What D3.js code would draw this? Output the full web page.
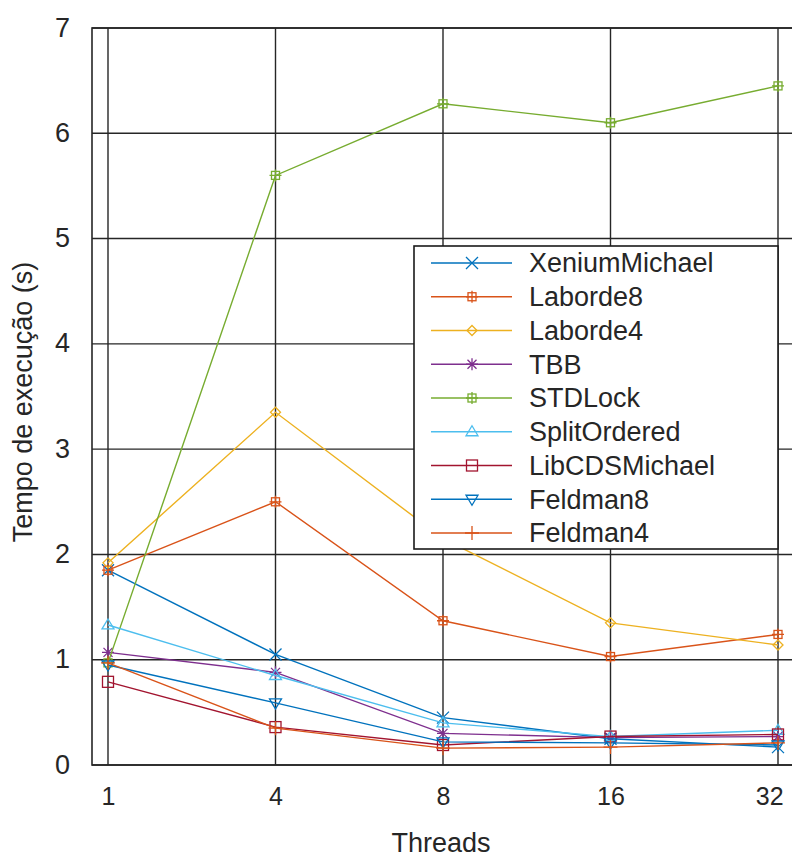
<!DOCTYPE html>
<html><head><meta charset="utf-8">
<script src="https://cdn.jsdelivr.net/npm/d3@7"></script>
<style>body{margin:0;background:#fff}svg{display:block}text{font-family:"Liberation Sans",Arial,sans-serif;fill:#262626}</style>
</head><body><svg id="c" width="792" height="859"></svg>
<script>
const categories = ["1","4","8","16","32"];
const yTicks = [0,1,2,3,4,5,6,7];
const seriesNames = ["XeniumMichael","Laborde8","Laborde4","TBB","STDLock","SplitOrdered","LibCDSMichael","Feldman8","Feldman4"];
const seriesColors = ["#0072bd","#d95319","#edb120","#7e2f8e","#77ac30","#4dbeee","#a2142f","#0072bd","#d95319"];
const seriesMarkers = ["x","sqplus","diamond","star","sqplus","tri","square","trid","plus"];
const xeniumMichael = [1.85,1.05,0.45,0.25,0.17];
const laborde8 = [1.85,2.50,1.37,1.03,1.24];
const laborde4 = [1.92,3.35,2.15,1.35,1.14];
const tbb = [1.07,0.88,0.30,0.26,0.27];
const stdLock = [0.97,5.60,6.28,6.10,6.45];
const splitOrdered = [1.33,0.85,0.40,0.27,0.33];
const libCDSMichael = [0.79,0.36,0.19,0.27,0.29];
const feldman8 = [0.95,0.59,0.22,0.21,0.19];
const feldman4 = [0.97,0.35,0.16,0.17,0.21];
const seriesValues = [xeniumMichael,laborde8,laborde4,tbb,stdLock,splitOrdered,libCDSMichael,feldman8,feldman4];

const svg = d3.select("#c");
const L=92,T=28,R=794,B=765;
const x = d3.scalePoint().domain(categories).range([108,778]);
const y = d3.scaleLinear().domain([0,7]).range([B,T]);
const grid="#262626";
const fs="27px";

svg.append("g").selectAll("line").data(yTicks).join("line")
  .attr("x1",L).attr("x2",R).attr("y1",d=>y(d)).attr("y2",d=>y(d))
  .attr("stroke",grid).attr("stroke-width",1.4);
svg.append("g").selectAll("line").data(categories).join("line")
  .attr("x1",d=>x(d)).attr("x2",d=>x(d)).attr("y1",T).attr("y2",B)
  .attr("stroke",grid).attr("stroke-width",1.4);
svg.append("rect").attr("x",L).attr("y",T).attr("width",R-L).attr("height",B-T)
  .attr("fill","none").attr("stroke",grid).attr("stroke-width",1.6);

const yAxis = d3.axisLeft(y).tickValues(yTicks).tickFormat(d3.format("d")).tickSize(0).tickPadding(22);
const ga = svg.append("g").attr("transform",`translate(${L},0)`).call(yAxis);
ga.select(".domain").remove();
ga.selectAll("text").style("font-size",fs).attr("fill","#262626").attr("font-family","Liberation Sans").attr("dy","0.3em");
const xAxis = d3.axisBottom(x).tickSize(0).tickPadding(22);
const gx = svg.append("g").attr("transform",`translate(0,${B})`).call(xAxis);
gx.select(".domain").remove();
gx.selectAll("text").style("font-size","25px").attr("fill","#262626").attr("font-family","Liberation Sans")
  .attr("dx",d=>d==="32"?"-0.35em":"0");

svg.append("text").attr("x",441).attr("y",852).attr("text-anchor","middle").style("font-size",fs).text("Threads");
svg.append("text").attr("transform","translate(32,402) rotate(-90)").attr("text-anchor","middle").style("font-size",fs).text("Tempo de execução (s)");

function marker(g, type, cx, cy, color){
  const s=g.append("g").attr("transform",`translate(${cx},${cy})`).attr("fill","none").attr("stroke",color).attr("stroke-width",1.3);
  if(type==="x"){ s.append("path").attr("d","M-6,-6L6,6M-6,6L6,-6"); }
  else if(type==="plus"){ s.append("path").attr("d","M0,-7L0,7M-7,0L7,0"); }
  else if(type==="sqplus"){ s.append("rect").attr("x",-4).attr("y",-4).attr("width",8).attr("height",8); s.append("path").attr("d","M0,-6L0,6M-6,0L6,0"); }
  else if(type==="square"){ s.append("rect").attr("x",-5.5).attr("y",-5.5).attr("width",11).attr("height",11); }
  else if(type==="diamond"){ s.append("path").attr("d","M0,-5L5,0L0,5L-5,0Z"); }
  else if(type==="star"){ s.append("path").attr("d","M-6,0L6,0M0,-6L0,6M-4.5,-4.5L4.5,4.5M-4.5,4.5L4.5,-4.5"); }
  else if(type==="tri"){ s.append("path").attr("d","M0,-6L6,4L-6,4Z"); }
  else if(type==="trid"){ s.append("path").attr("d","M0,6L6,-4L-6,-4Z"); }
}

const line = d3.line().x((d,i)=>x(categories[i])).y(d=>y(d));
seriesValues.forEach((vals,k)=>{
  const g=svg.append("g");
  g.append("path").datum(vals).attr("d",line).attr("fill","none").attr("stroke",seriesColors[k]).attr("stroke-width",1.4);
  vals.forEach((v,i)=>marker(g,seriesMarkers[k],x(categories[i]),y(v),seriesColors[k]));
});

const lg = svg.append("g");
lg.append("rect").attr("x",414).attr("y",246).attr("width",364).attr("height",303).attr("fill","#fff").attr("stroke","#1a1a1a").attr("stroke-width",1.6);
seriesNames.forEach((n,i)=>{
  const cy=263+i*33.75;
  lg.append("line").attr("x1",431).attr("x2",512).attr("y1",cy).attr("y2",cy).attr("stroke",seriesColors[i]).attr("stroke-width",1.4);
  marker(lg,seriesMarkers[i],472,cy,seriesColors[i]);
  lg.append("text").attr("x",529).attr("y",cy).attr("dy","0.35em").style("font-size",fs).text(n);
});
</script></body></html>
